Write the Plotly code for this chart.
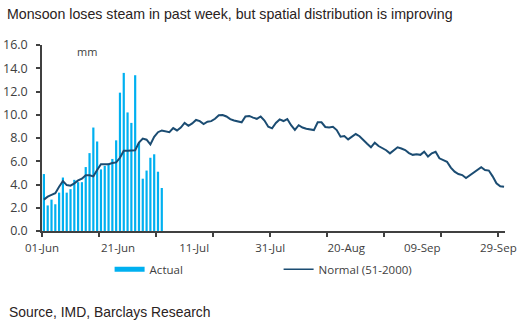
import pandas as pd
import plotly.graph_objects as go

# Daily rainfall, all-India average (mm), starting 1 June
start_date = "2014-06-01"
actual_mm = [4.9, 2.2, 2.7, 2.3, 3.3, 4.6, 3.3, 3.6, 4.4, 4.2, 4.2, 5.5, 6.7, 8.9, 7.7, 5.3,
             5.6, 5.8, 6.2, 7.8, 11.9, 13.6, 10.2, 9.3, 13.4, 7.6, 4.5, 5.2, 6.3, 6.6, 5.1, 3.7]
normal_mm = [2.7, 2.95, 3.1, 3.25, 3.8, 4.3, 3.95, 3.9, 4.1, 4.35, 4.5, 4.8, 4.8, 4.7, 5.25, 5.75,
             5.75, 5.75, 5.85, 5.9, 6.3, 6.9, 6.9, 6.9, 6.95, 7.6, 7.95, 7.85, 7.45, 8.1, 8.5, 8.65,
             8.6, 8.5, 8.85, 8.65, 8.9, 9.3, 9.05, 9.25, 9.55, 9.45, 9.2, 9.4, 9.45, 9.65, 9.95, 9.98,
             9.85, 9.62, 9.5, 9.4, 9.35, 9.85, 9.9, 9.75, 9.65, 9.85, 9.5, 8.97, 8.83, 9.3, 9.6, 9.46,
             9.63, 9.1, 8.7, 9.1, 8.9, 8.8, 8.77, 8.68, 9.35, 9.35, 8.95, 8.9, 8.97, 8.68, 8.11, 8.17,
             7.88, 8.1, 8.34, 8.15, 7.8, 7.5, 7.2, 7.6, 7.31, 7.15, 6.95, 6.68, 6.95, 7.2, 7.1, 6.96,
             6.7, 6.55, 6.6, 6.55, 6.82, 6.4, 6.68, 6.82, 6.25, 6.1, 5.96, 5.45, 5.1, 4.9, 4.81, 4.55,
             4.8, 5.05, 5.3, 5.48, 5.25, 5.2, 4.7, 4.1, 3.85, 3.8]

tick_dates = ["2014-06-01", "2014-06-21", "2014-07-11", "2014-07-31",
              "2014-08-20", "2014-09-09", "2014-09-29"]
tick_labels = ["01-Jun", "21-Jun", "11-Jul", "31-Jul", "20-Aug", "09-Sep", "29-Sep"]

# each day's value sits at the middle of its day
day0 = pd.Timestamp(start_date) + pd.Timedelta(hours=12)
actual_x = [day0 + pd.Timedelta(days=i) for i in range(len(actual_mm))]
normal_x = [day0 + pd.Timedelta(days=i) for i in range(len(normal_mm))]
minor_ticks = [pd.Timestamp(start_date) + pd.Timedelta(days=15 * k) for k in range(9)]

BAR_BLUE = "#00B0F0"
NAVY = "#1B4C72"
AXIS_GREY = "#404040"
FONT_AXIS = "Open Sans"
FONT_TEXT = "Liberation Sans"

fig = go.Figure()
fig.add_trace(go.Bar(x=actual_x, y=actual_mm, marker=dict(color=BAR_BLUE, line_width=0),
                     name="Actual", showlegend=False))
fig.add_trace(go.Scatter(x=normal_x, y=normal_mm, mode="lines",
                         line=dict(color=NAVY, width=2), name="Normal (51-2000)",
                         showlegend=False))
# legend entries
fig.add_trace(go.Scatter(x=[None], y=[None], mode="lines",
                         line=dict(color=BAR_BLUE, width=5), name="Actual"))
fig.add_trace(go.Scatter(x=[None], y=[None], mode="lines",
                         line=dict(color=NAVY, width=1.5), name="Normal (51-2000)"))

fig.update_layout(
    width=517, height=328,
    margin=dict(l=42, r=12, t=45, b=97),
    paper_bgcolor="white", plot_bgcolor="white",
    bargap=0.42,
    title=dict(text="Monsoon loses steam in past week, but spatial distribution is improving",
               xref="container", yref="container", x=7 / 517, xanchor="left",
               y=1 - 14 / 328, yanchor="middle",
               font=dict(family=FONT_TEXT, size=14.2, color="#2a2222")),
    legend=dict(orientation="h", x=0.146, xanchor="left", y=-0.205, yanchor="middle",
                font=dict(family=FONT_AXIS, size=11.5, color=AXIS_GREY),
                entrywidth=124, entrywidthmode="pixels", bgcolor="rgba(0,0,0,0)"),
    xaxis=dict(
        type="date", range=["2014-06-01 00:00", "2014-09-30 18:00"],
        tickmode="array", tickvals=tick_dates, ticktext=tick_labels,
        ticks="", showgrid=False, zeroline=False, automargin=False,
        showline=True, linecolor=AXIS_GREY, linewidth=1.5,
        tickfont=dict(family=FONT_AXIS, size=11.5, color=AXIS_GREY),
        ticklabelstandoff=5,
        minor=dict(tickmode="array", tickvals=minor_ticks, ticks="outside",
                   ticklen=4, tickcolor=AXIS_GREY, tickwidth=1.5, showgrid=False),
    ),
    yaxis=dict(
        range=[0, 16], tickmode="linear", tick0=0, dtick=2, tickformat=".1f",
        ticks="outside", ticklen=4, tickcolor=AXIS_GREY, tickwidth=1.5,
        showgrid=False, zeroline=False, automargin=False,
        showline=True, linecolor=AXIS_GREY, linewidth=1.5,
        ticklabelstandoff=6,
        tickfont=dict(family=FONT_AXIS, size=12.5, color=AXIS_GREY),
    ),
    annotations=[
        dict(text="mm", xref="paper", yref="paper", x=(87 - 42) / 463, y=(231 - 52) / 186,
             showarrow=False, xanchor="center", yanchor="middle",
             font=dict(family=FONT_AXIS, size=11, color=AXIS_GREY)),
        dict(text="Source, IMD, Barclays Research", xref="paper", yref="paper",
             x=(7 - 42) / 463, y=(231 - 312) / 186, xanchor="left", yanchor="middle",
             showarrow=False, font=dict(family=FONT_TEXT, size=13.9, color="#2a2222")),
    ],
)

fig.write_html("out.html")
